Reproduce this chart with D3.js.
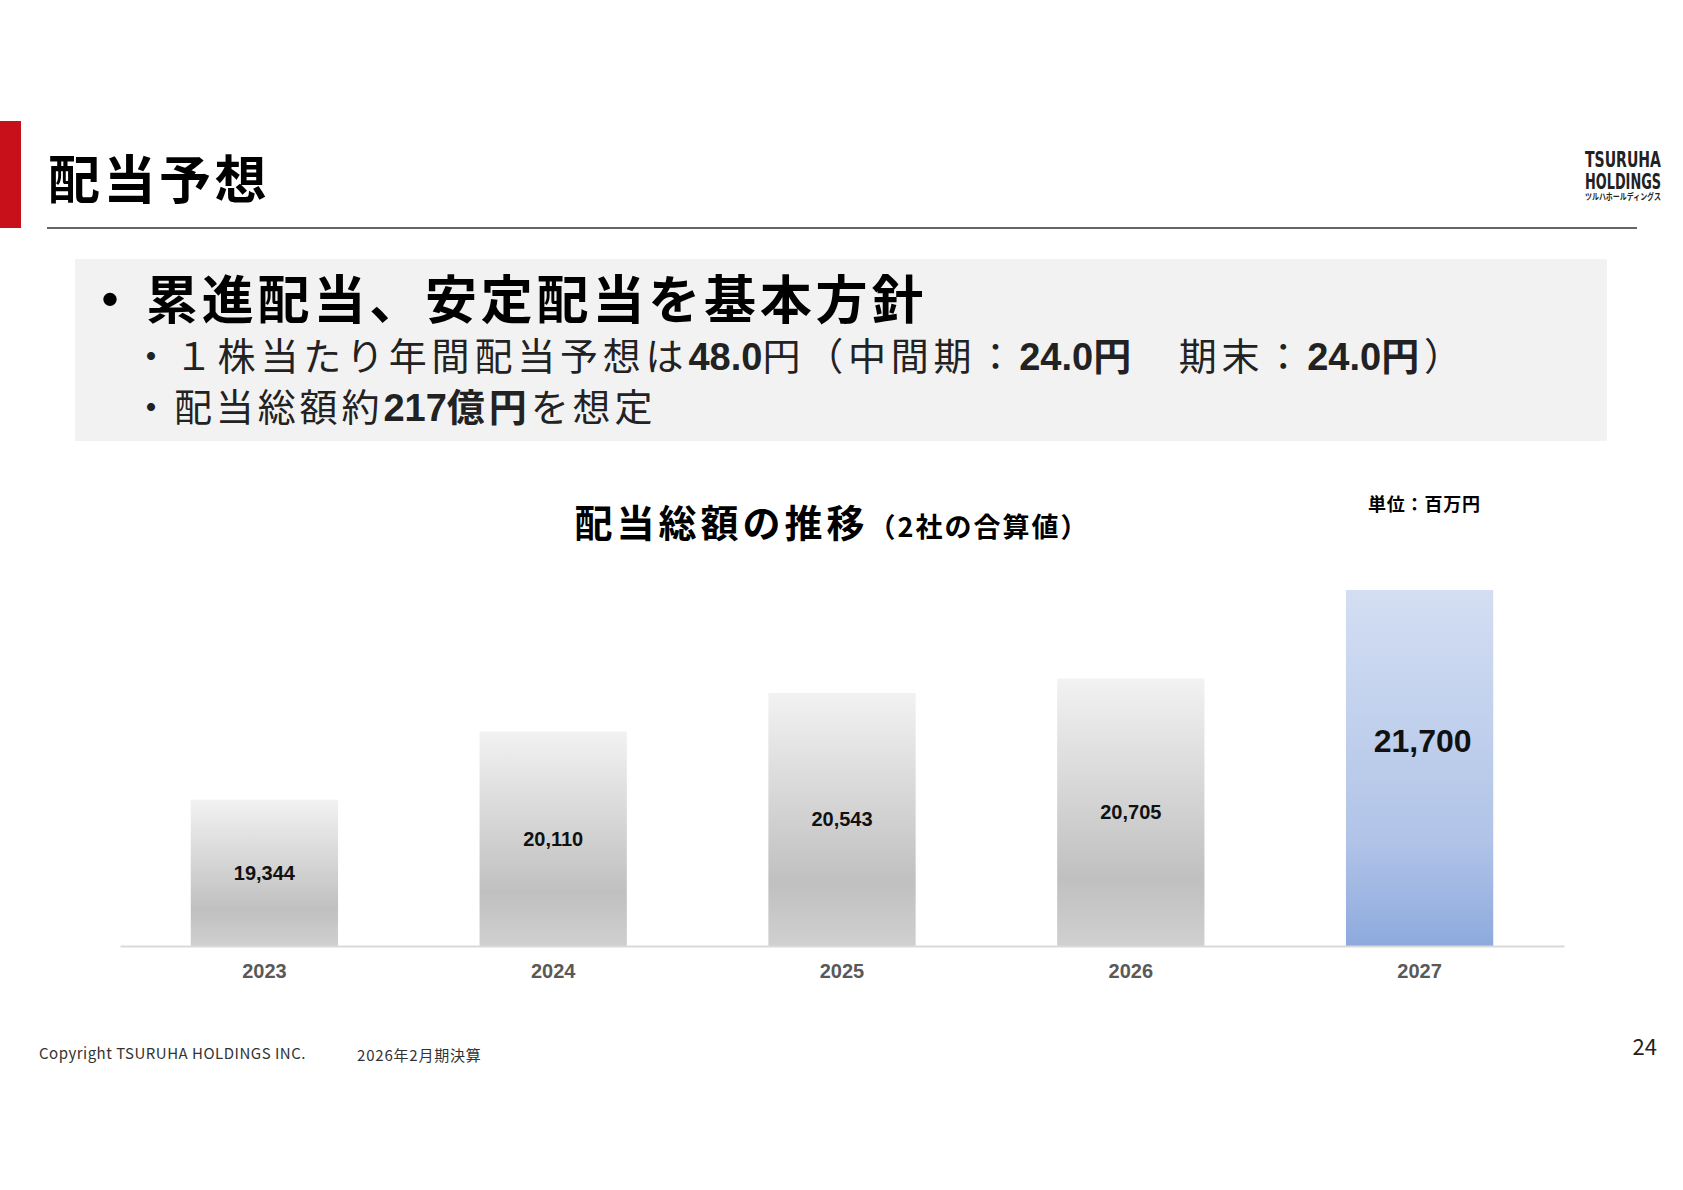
<!DOCTYPE html>
<html><head><meta charset="utf-8">
<script src="https://cdn.jsdelivr.net/npm/d3@7"></script>
<style>body{margin:0;background:#fff}svg{display:block;font-family:"Noto Sans CJK JP","Noto Sans",sans-serif}</style>
</head><body>
<svg width="1683" height="1190"></svg>
<script>
var years = ["2023", "2024", "2025", "2026", "2027"];
var dividends = [19344, 20110, 20543, 20705, 21700];
var bigLabel = "2027";

var svg = d3.select("svg");
var defs = svg.append("defs");
var gg = defs.append("linearGradient").attr("id", "gGray").attr("x1", 0).attr("y1", 0).attr("x2", 0).attr("y2", 1);
gg.append("stop").attr("offset", "0%").attr("stop-color", "#f2f2f2");
gg.append("stop").attr("offset", "75%").attr("stop-color", "#c0c0c0");
gg.append("stop").attr("offset", "100%").attr("stop-color", "#d0d0d0");
var gb = defs.append("linearGradient").attr("id", "gBlue").attr("x1", 0).attr("y1", 0).attr("x2", 0).attr("y2", 1);
gb.append("stop").attr("offset", "0%").attr("stop-color", "#d3def2");
gb.append("stop").attr("offset", "70%").attr("stop-color", "#b1c4e8");
gb.append("stop").attr("offset", "100%").attr("stop-color", "#8daadd");

// header
svg.append("rect").attr("x", 0).attr("y", 121).attr("width", 21).attr("height", 107).attr("fill", "#c8101a");
svg.append("text").attr("x", 48).attr("y", 199).attr("font-size", 52).attr("font-weight", 700).attr("letter-spacing", 3.5).text("配当予想");
svg.append("line").attr("x1", 47).attr("x2", 1637).attr("y1", 228).attr("y2", 228).attr("stroke", "#333").attr("stroke-width", 1.5);

var logo = svg.append("g").attr("font-family", "'Liberation Sans Narrow','DejaVu Sans Condensed',sans-serif").attr("font-weight", 700).attr("fill", "#222");
logo.append("text").attr("x", 1585).attr("y", 167).attr("font-size", 22).attr("textLength", 76).attr("lengthAdjust", "spacingAndGlyphs").text("TSURUHA");
logo.append("text").attr("x", 1585).attr("y", 189).attr("font-size", 22).attr("textLength", 76).attr("lengthAdjust", "spacingAndGlyphs").text("HOLDINGS");
logo.append("text").attr("x", 1585).attr("y", 200).attr("font-size", 9).attr("font-family", "'Noto Sans CJK JP'").attr("textLength", 76).attr("lengthAdjust", "spacingAndGlyphs").text("ツルハホールディングス");

// policy box
svg.append("rect").attr("x", 75).attr("y", 259).attr("width", 1532).attr("height", 182).attr("fill", "#f2f2f2");
svg.append("text").attr("x", 84).attr("y", 319).attr("font-size", 52).attr("font-weight", 700).text("・");
svg.append("text").attr("x", 146).attr("y", 319).attr("font-size", 52).attr("font-weight", 700).attr("letter-spacing", 3.8).text("累進配当、安定配当を基本方針");
var l1 = svg.append("text").attr("x", 132).attr("y", 370).attr("font-size", 38).attr("fill", "#222").attr("letter-spacing", 4.8);
l1.append("tspan").text("・１株当たり年間配当予想は");
l1.append("tspan").attr("font-weight", 700).attr("font-family", "'Liberation Sans',Arial").attr("letter-spacing", 0).text("48.0");
l1.append("tspan").text("円（中間期：");
l1.append("tspan").attr("font-weight", 700).attr("font-family", "'Liberation Sans',Arial").attr("letter-spacing", 0).text("24.0");
l1.append("tspan").attr("font-weight", 700).text("円");
l1.append("tspan").text("　期末：");
l1.append("tspan").attr("font-weight", 700).attr("font-family", "'Liberation Sans',Arial").attr("letter-spacing", 0).text("24.0");
l1.append("tspan").attr("font-weight", 700).text("円");
l1.append("tspan").text("）");
var l2 = svg.append("text").attr("x", 132).attr("y", 421).attr("font-size", 38).attr("fill", "#222").attr("letter-spacing", 3.9);
l2.append("tspan").text("・配当総額約");
l2.append("tspan").attr("font-weight", 700).attr("font-family", "'Liberation Sans',Arial").attr("letter-spacing", 0).text("217");
l2.append("tspan").attr("font-weight", 700).text("億円");
l2.append("tspan").text("を想定");

// chart title
var t = svg.append("text").attr("x", 832).attr("y", 537).attr("text-anchor", "middle").attr("font-weight", 700).attr("letter-spacing", 4);
t.append("tspan").attr("font-size", 38).text("配当総額の推移");
t.append("tspan").attr("font-size", 27).attr("letter-spacing", 2).text("（2社の合算値）");
svg.append("text").attr("x", 1368).attr("y", 511).attr("font-size", 18).attr("font-weight", 700).attr("letter-spacing", 0.8).text("単位：百万円");

// chart
var x = d3.scaleBand().domain(years).range([120, 1564]).paddingInner(0.49).paddingOuter(0.245);
var y = d3.scaleLinear().domain([17700, 21700]).range([946, 590]);

svg.append("g").selectAll("rect").data(years).join("rect")
  .attr("x", function(d) { return x(d); })
  .attr("width", x.bandwidth())
  .attr("y", function(d, i) { return y(dividends[i]); })
  .attr("height", function(d, i) { return 946 - y(dividends[i]); })
  .attr("fill", function(d) { return d == bigLabel ? "url(#gBlue)" : "url(#gGray)"; });

svg.append("g").selectAll("text").data(years).join("text")
  .attr("x", function(d) { return x(d) + x.bandwidth() / 2 + (d == bigLabel ? 3 : 0); })
  .attr("y", function(d, i) { var m = (y(dividends[i]) + 946) / 2; return d == bigLabel ? m - 16 : m + 7; })
  .attr("text-anchor", "middle")
  .attr("font-family", "'Liberation Sans',Arial,sans-serif").attr("font-weight", 700)
  .attr("font-size", function(d) { return d == bigLabel ? 32 : 20; })
  .attr("fill", "#111")
  .text(function(d, i) { return d3.format(",")(dividends[i]); });

var ax = svg.append("g").attr("transform", "translate(0,946)").call(d3.axisBottom(x).tickSize(0).tickPadding(14));
ax.select(".domain").attr("stroke", "#d9d9d9").attr("stroke-width", 2);
ax.selectAll("text").attr("font-size", 20).attr("font-weight", 700).attr("fill", "#595959").attr("font-family", "'Liberation Sans',Arial,sans-serif").attr("dy", "0.9em");

// footer
svg.append("text").attr("x", 39).attr("y", 1059).attr("font-size", 15).attr("fill", "#333").attr("letter-spacing", 0.5).text("Copyright  TSURUHA HOLDINGS INC.");
svg.append("text").attr("x", 357).attr("y", 1061).attr("font-size", 15).attr("fill", "#333").attr("letter-spacing", 0.8).text("2026年2月期決算");
svg.append("text").attr("x", 1657).attr("y", 1055).attr("text-anchor", "end").attr("font-size", 22).attr("fill", "#222").text("24");
</script>
</body></html>
